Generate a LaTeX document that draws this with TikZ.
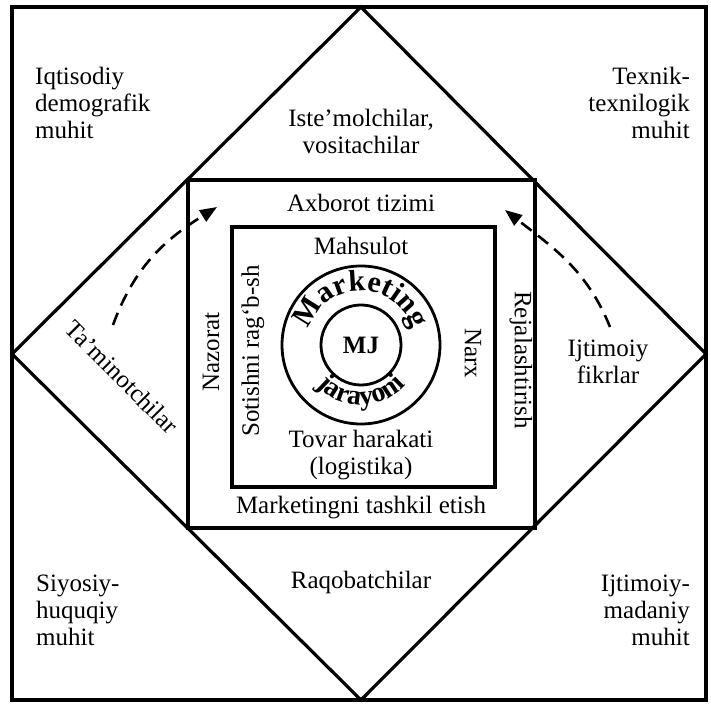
\documentclass[tikz,border=0pt]{standalone}
\usepackage{fontspec}
\setmainfont{Liberation Serif}
\usetikzlibrary{arrows.meta,positioning,decorations.text}

\tikzset{
  frame/.style={line width=3.2pt},
  ring/.style={line width=2.8pt},
  lbl/.style={font=\fontsize{25}{27}\selectfont, inner sep=0pt},
  blk/.style={lbl, align=center},
  flow/.style={line width=2.6pt, dash pattern=on 13pt off 8pt,
    -{Triangle[length=17pt,width=13pt]}},
}

\begin{document}
\begin{tikzpicture}[x=1pt,y=1pt]
		\useasboundingbox (0,0) rectangle (711,706);
		
		% environment frame
		\coordinate (A) at (12,6);
		\coordinate (B) at (706,6);
		\coordinate (C) at (706,699);
		\coordinate (D) at (12,699);
		
		% diamond
		\coordinate (T) at (361,699);
		\coordinate (L) at (12,352);
		\coordinate (Bt) at (361,6);
		\coordinate (R) at (706,352);
		
		\draw[frame] (A)--(B)--(C)--(D)--cycle;
		\draw[frame] (T)--(L)--(Bt)--(R)--cycle;
		
		% middle and inner boxes
		\draw[frame] (188,178) rectangle (535,526);
		\draw[frame] (232,219) rectangle (495,479);
		
		% rings
		\coordinate (O) at (361,361);
		\draw[ring] (O) circle (79);
		\draw[ring] (O) circle (40);
		
		\path[decorate,decoration={text along path,
			text={|\fontsize{30}{32}\bfseries|Marketing},
			text align={fit to path}}]
		([shift={(O)}]163:54) arc[start angle=163,end angle=17,radius=54];
		
		\path[decorate,decoration={text along path,
			text={|\fontsize{28}{30}\bfseries|jarayoni},
			text align=center}]
		([shift={(O)}]200:60) arc[start angle=200,end angle=340,radius=60];
		
		\node[lbl,font=\fontsize{25}{27}\bfseries] (mj) at (O) {MJ};
		
		% inner labels
		\node[lbl] (axb) at (361,503) {Axborot tizimi};
		\node[lbl] (mah) at (361,460) {Mahsulot};
		\node[blk] (tov) at (361,251) {Tovar harakati\\(logistika)};
		\node[lbl] (mte) at (361,198) {Marketingni tashkil etish};
		\node[lbl,rotate=90] (naz) at (211,354) {Nazorat};
		\node[lbl,rotate=90] (sot) at (253,355) {Sotishni rag‘b-sh};
		\node[lbl,rotate=-90] (narx) at (473,353) {Narx};
		\node[lbl,rotate=-90] (rej) at (521,346) {Rejalashtirish};
		
		% diamond labels
		\node[blk] (ist) at (361,575) {Iste’molchilar,\\vositachilar};
		\node[lbl] (raq) at (361,124) {Raqobatchilar};
		\node[lbl,rotate=-45] (tam) at (122,329) {Ta’minotchilar};
		\node[blk] (ijf) at (608,344) {Ijtimoiy\\fikrlar};
		
		% corner labels
		\node[lbl,align=left,anchor=west] (iqt) at (35,603) {Iqtisodiy\\demografik\\muhit};
		\node[lbl,align=right,anchor=east] (tex) at (690,603) {Texnik-\\texnilogik\\muhit};
		\node[lbl,align=left,anchor=west] (siy) at (36,96) {Siyosiy-\\huquqiy\\muhit};
		\node[lbl,align=right,anchor=east] (ijm) at (690,96) {Ijtimoiy-\\madaniy\\muhit};
		
		% dashed arrows
		\coordinate (tailL) at (113,381);
		\coordinate (headL) at (217,499);
		\coordinate (tailR) at (610,379);
		\coordinate (headR) at (505,496);
		
		\draw[flow] (tailL) to[out=70,in=212] (headL);
		\draw[flow] (tailR) to[out=112,in=-38] (headR);
		
	\end{tikzpicture}
\end{document}
